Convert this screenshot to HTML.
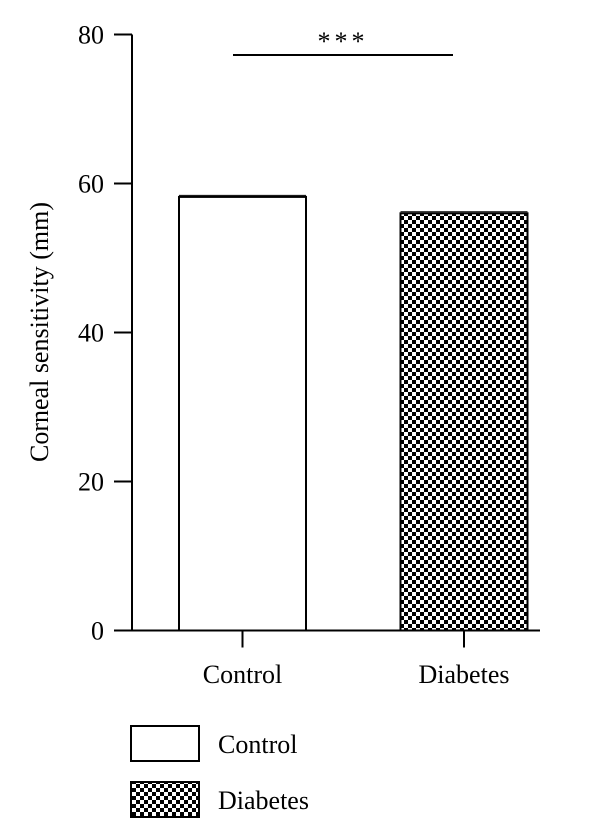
<!DOCTYPE html>
<html><head><meta charset="utf-8"><style>
body{margin:0;background:#fff}
svg{display:block;font-family:"Liberation Serif",serif}
</style></head><body>
<svg id="chart" width="600" height="840" viewBox="0 0 600 840">
<defs>
<pattern id="checker" width="8" height="8" patternUnits="userSpaceOnUse">
<rect width="8" height="8" fill="#fff"/>
<rect width="4" height="4" fill="#000"/><rect x="4" y="4" width="4" height="4" fill="#000"/>
</pattern>
</defs>
<g id="plot"></g>
</svg>
<script>
const categories=["Control","Diabetes"];
const values=[58.2,56.0];
const errors=[0.2,0.2];
const yTicks=[0,20,40,60,80];
const fills=["#fff","url(#checker)"];
const NS="http://www.w3.org/2000/svg";
const g=document.getElementById('plot');
const y0=630.5,yTop=34.5,axX=132,xEnd=540;
const y=v=>y0-(v/80)*(y0-yTop);
const centers=[242.5,464];
const bw=127;
function mk(t,a,p){const e=document.createElementNS(NS,t);for(const k in a)e.setAttribute(k,a[k]);(p||g).appendChild(e);return e;}
let e;
e=mk('line',{x1:axX,y1:yTop,x2:axX,y2:y0,stroke:'#000','stroke-width':2});


e=mk('line',{x1:axX,y1:y0,x2:xEnd,y2:y0,stroke:'#000','stroke-width':2});


yTicks.forEach(t=>{
 e=mk('line',{x1:114,y1:y(t),x2:axX,y2:y(t),stroke:'#000','stroke-width':2});
 
 
 e=mk('text',{x:104,y:y(t)+9,'text-anchor':'end','font-size':26});
 e.textContent=t;
 
 
});
categories.forEach((c,i)=>{
 const cx=centers[i];
 e=mk('rect',{x:cx-bw/2,y:y(values[i]),width:bw,height:y0-y(values[i]),fill:fills[i],stroke:'#000','stroke-width':2});
 
 
 e=mk('line',{x1:cx-bw/2,y1:y(values[i]+errors[i]),x2:cx+bw/2,y2:y(values[i]+errors[i]),stroke:'#000','stroke-width':1});
 
 
 e=mk('line',{x1:cx,y1:y0,x2:cx,y2:y0+17,stroke:'#000','stroke-width':2});
 
 
 e=mk('text',{x:cx,y:683,'text-anchor':'middle','font-size':26});
 e.textContent=c;
 
 
});
e=mk('text',{transform:'translate(48,332) rotate(-90)','text-anchor':'middle','font-size':26});
e.textContent='Corneal sensitivity (mm)';


e=mk('line',{x1:233,y1:55,x2:453,y2:55,stroke:'#000','stroke-width':2});


e=mk('text',{x:343,y:50,'text-anchor':'middle','font-size':26,'letter-spacing':4});
e.textContent='***';


categories.forEach((c,i)=>{
 const ly=726+i*56;
 e=mk('rect',{x:131,y:ly,width:68,height:35,fill:fills[i],stroke:'#000','stroke-width':2});
 
 
 e=mk('text',{x:218,y:ly+27,'font-size':26});
 e.textContent=c;
 
 
});
</script>
</body></html>
